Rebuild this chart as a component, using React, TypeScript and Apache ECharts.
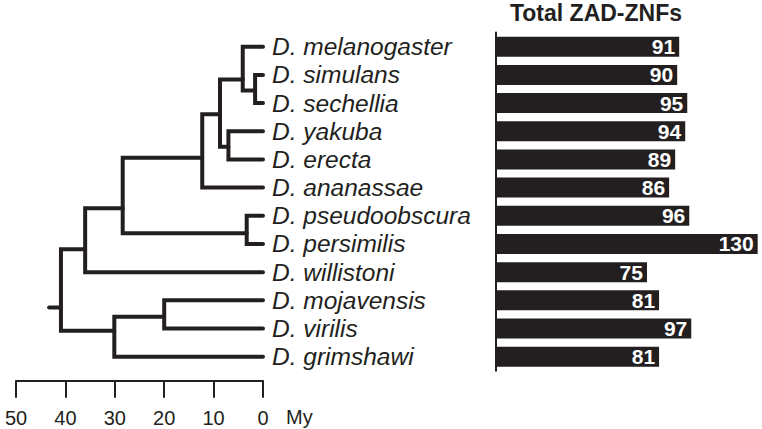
import React, { useEffect, useRef } from "react";
import * as echarts from "echarts";

const species = [
  "D. melanogaster",
  "D. simulans",
  "D. sechellia",
  "D. yakuba",
  "D. erecta",
  "D. ananassae",
  "D. pseudoobscura",
  "D. persimilis",
  "D. willistoni",
  "D. mojavensis",
  "D. virilis",
  "D. grimshawi",
];

const totalZadZnfs = [91, 90, 95, 94, 89, 86, 96, 130, 75, 81, 97, 81];

const timeTicks = [50, 40, 30, 20, 10, 0];

// Internal nodes of the tree: age (My), row where the stem leaves, children
// (numbers = tip index, strings = node id)
const nodeIds = ["A", "B", "C", "D", "E", "F", "G", "H", "I", "J", "K"];
const nodeAges = [1.6, 4.1, 7.0, 8.7, 12.3, 3.3, 28.4, 36.0, 20.0, 30.1, 40.9];
const nodeRows = [1.55, 1.16, 3.55, 2.4, 3.94, 6.62, 5.73, 7.19, 9.58, 10.08, 9.25];
const nodeChildren: (number | string)[][] = [
  [1, 2],
  [0, "A"],
  [3, 4],
  ["B", "C"],
  ["D", 5],
  [6, 7],
  ["E", "F"],
  ["G", 8],
  [9, 10],
  ["I", 11],
  ["H", "J"],
];
const rootStemAge = 43.3;

const INK = "#231f20";
const FONT = "'Liberation Sans', Arial, Helvetica, sans-serif";

function pos(c: number | string): [number, number] {
  if (typeof c === "number") return [0, c];
  const i = nodeIds.indexOf(c);
  return [nodeAges[i], nodeRows[i]];
}

function buildTreeLines() {
  const lines: { coords: [number, number][] }[] = [];
  nodeIds.forEach((id, i) => {
    const [c1, c2] = nodeChildren[i].map(pos);
    const a = nodeAges[i];
    lines.push({
      coords: [
        [c1[0], c1[1]],
        [a, c1[1]],
        [a, c2[1]],
        [c2[0], c2[1]],
      ],
    });
  });
  const rootIdx = nodeIds.length - 1;
  lines.push({
    coords: [
      [nodeAges[rootIdx], nodeRows[rootIdx]],
      [rootStemAge, nodeRows[rootIdx]],
    ],
  });
  return lines;
}

export default function App() {
  const ref = useRef<HTMLDivElement>(null);

  useEffect(() => {
    if (!ref.current) return;
    const chart = echarts.init(ref.current, null, { renderer: "svg" });
    const top = 32.6;
    const height = 338.2;
    chart.setOption({
      animation: false,
      backgroundColor: "#ffffff",
      grid: [
        { left: 16, width: 247, top, height },
        { left: 496, width: 261.7, top, height },
      ],
      xAxis: [
        {
          type: "value",
          gridIndex: 0,
          position: "bottom",
          min: 0,
          max: 50,
          interval: 10,
          inverse: true,
          offset: 10,
          axisLine: { show: true, onZero: false, lineStyle: { color: INK, width: 2 } },
          axisTick: { show: true, length: 17, lineStyle: { color: INK, width: 2 } },
          axisLabel: {
            color: INK,
            fontSize: 20,
            fontFamily: FONT,
            margin: 27,
            formatter: (v: number) => (timeTicks.includes(v) ? String(v) : ""),
          },
          splitLine: { show: false },
        },
        {
          type: "value",
          gridIndex: 1,
          min: 0,
          max: 130,
          show: false,
        },
      ],
      yAxis: [
        {
          type: "value",
          gridIndex: 0,
          min: -0.5,
          max: 11.5,
          inverse: true,
          show: false,
        },
        {
          type: "category",
          gridIndex: 0,
          data: species,
          inverse: true,
          position: "right",
          axisLine: { show: false },
          axisTick: { show: false },
          axisLabel: {
            interval: 0,
            color: INK,
            fontSize: 24.5,
            fontStyle: "italic",
            fontFamily: FONT,
            margin: 9,
            align: "left",
          },
        },
        {
          type: "category",
          gridIndex: 1,
          data: species,
          inverse: true,
          axisLine: { show: true, lineStyle: { color: INK, width: 2 } },
          axisTick: { show: false },
          axisLabel: { show: false },
        },
      ],
      graphic: [
        {
          type: "text",
          x: 596,
          y: 12.5,
          style: {
            text: "Total ZAD-ZNFs",
            fill: INK,
            fontSize: 23,
            fontWeight: "bold",
            fontFamily: FONT,
            textAlign: "center",
            textVerticalAlign: "middle",
          },
        },
        {
          type: "text",
          x: 286,
          y: 417,
          style: {
            text: "My",
            fill: INK,
            fontSize: 20,
            fontFamily: FONT,
            textAlign: "left",
            textVerticalAlign: "middle",
          },
        },
      ],
      series: [
        {
          type: "lines",
          coordinateSystem: "cartesian2d",
          xAxisIndex: 0,
          yAxisIndex: 0,
          polyline: true,
          silent: true,
          lineStyle: { color: INK, width: 4, opacity: 1, cap: "round", join: "miter" },
          data: buildTreeLines(),
        },
        {
          type: "bar",
          xAxisIndex: 1,
          yAxisIndex: 2,
          data: totalZadZnfs,
          barWidth: 20,
          itemStyle: { color: INK },
          label: {
            show: true,
            position: "insideRight",
            distance: 4,
            color: "#ffffff",
            fontSize: 21,
            fontWeight: "bold",
            fontFamily: FONT,
          },
        },
      ],
    });
    return () => chart.dispose();
  }, []);

  return <div ref={ref} style={{ width: 762, height: 429, position: "absolute", left: 0, top: 0 }} />;
}
